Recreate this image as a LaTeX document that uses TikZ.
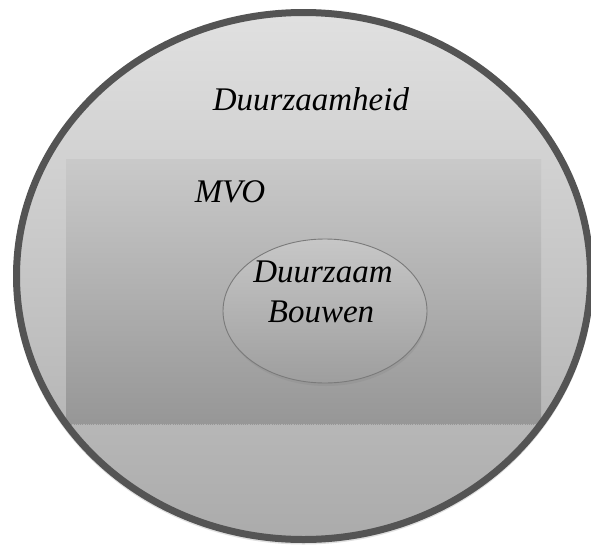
\documentclass[tikz,border=0pt]{standalone}
\usepackage{fontspec}
\setmainfont{Liberation Serif}
\usetikzlibrary{shapes.geometric}
\begin{document}
\begin{tikzpicture}[x=1pt,y=-1pt,
  lbl/.style={font=\fontsize{33}{40}\selectfont\itshape, text=black, inner sep=0pt, anchor=base, align=center},
  big/.style={ellipse, inner sep=0pt, minimum width=574pt, minimum height=527pt}]
\useasboundingbox (0,0) rectangle (591,546);
% outer circle shadow
\node[big, minimum width=580pt, minimum height=533pt, fill=black!40, opacity=0.3] (oshadow) at (303.5,278) {};
% outer circle fill
\node[big, top color=black!12, bottom color=black!33] (outer) at (303.5,276) {};
% rectangle
\node[rectangle, inner sep=0pt, minimum width=475pt, minimum height=265pt,
  top color=black!21, bottom color=black!41] (mvo) at (303.5,291.5) {};
\draw[black!30, densely dotted, line width=1.2pt] (mvo.south west) -- (mvo.south east);
% outer circle rim, on top
\node[big, draw=black!67, line width=7pt] (rim) at (outer.center) {};
% inner ellipse shadow
\node[ellipse, inner sep=0pt, minimum width=202pt, minimum height=142pt,
  fill=black!45, opacity=0.35] (shadow) at (326,315) {};
\node[ellipse, inner sep=0pt, minimum width=204pt, minimum height=144pt,
  top color=black!22, bottom color=black!38, draw=black!52, line width=0.9pt] (inner) at (325,311) {};
% labels
\node[lbl] (t1) at (311,110) {Duurzaamheid};
\node[lbl] (t2) at (230,202) {MVO};
\node[lbl] (t3) at (323,282) {Duurzaam};
\node[lbl] (t4) at (321,322) {Bouwen};
\end{tikzpicture}
\end{document}
